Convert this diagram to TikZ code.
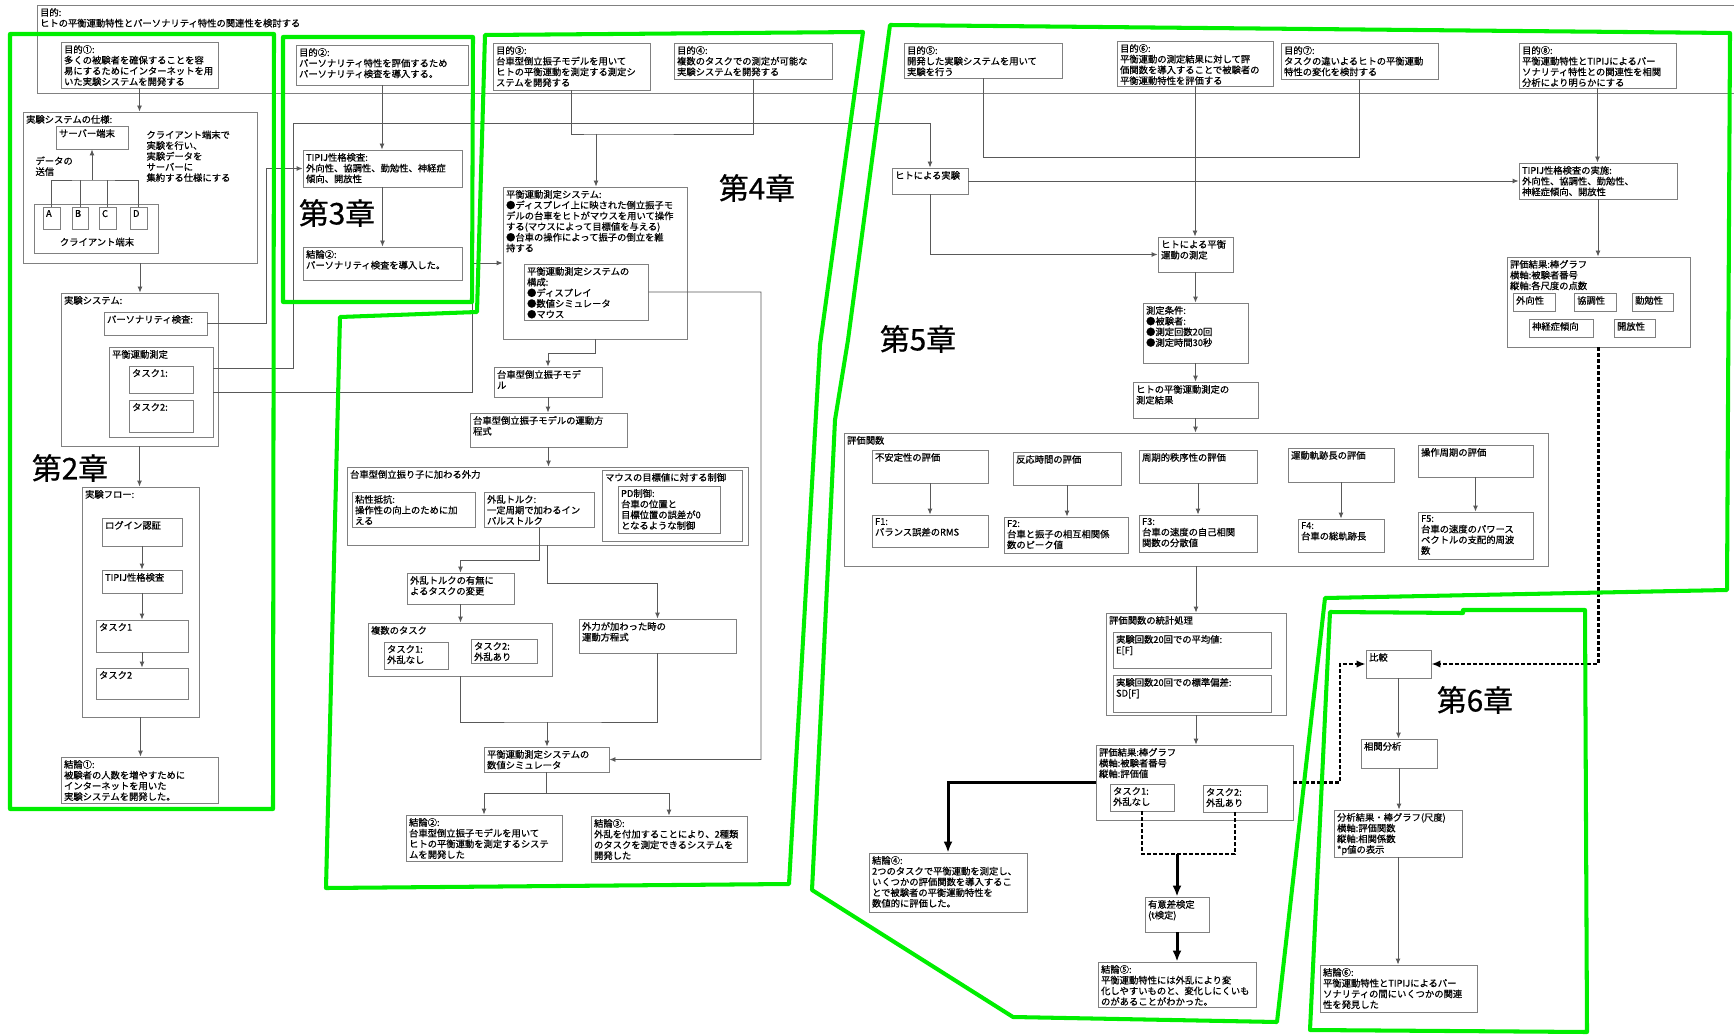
\documentclass[tikz,border=0pt]{standalone}
\usepackage{fontspec}
\setmainfont{Noto Sans CJK JP}[RawFeature={embolden=0.6}]
\usepackage{xcolor}
\usepackage{tikz}
\usetikzlibrary{
  arrows.meta,
  calc,
  fit
}
\definecolor{chgreen}{RGB}{0,238,0}

% box from corner to corner, text at its top left
\newcommand{\jbox}[6]{%
  \node[pbox, fit={(#2,#3) (#4,#5)}] (#1) {};
  \node[lbl] (#1-t) at (#1.north west) {#6};}

\begin{document}
\begin{tikzpicture}[
  x=0.2mm, y=-0.2mm,
  pbox/.style={draw=black!50, line width=0.5pt, inner sep=0pt},
  lbl/.style={anchor=north west, align=left, inner sep=1.8pt,
    font=\fontsize{5.3}{6.1}\selectfont},
  ln/.style={draw=black!65, line width=0.5pt},
  arr/.style={ln, -{Latex[length=1.2mm, width=1mm]}},
  tarr/.style={line width=1.7pt, -{Latex[length=2.2mm, width=1.8mm]}},
  dsh/.style={line width=1.4pt, dash pattern=on 0.8mm off 0.4mm},
  darr/.style={dsh, -{Latex[length=1.8mm, width=1.5mm]}},
  chapter/.style={draw=chgreen, line width=2.3pt, line join=round},
  chlbl/.style={font=\fontsize{17}{17}\selectfont, inner sep=0pt}
]
  \useasboundingbox (0,0) rectangle (1734,1035);

  \jbox{goal}{37}{5}{1745}{93}{目的:\\ヒトの平衡運動特性とパーソナリティ特性の関連性を検討する}

  % chapter 2
  \jbox{o1}{61}{42}{218}{88}{目的①:\\多くの被験者を確保することを容\\易にするためにインターネットを用\\いた実験システムを開発する}
  \jbox{spec}{23}{112}{257}{263}{実験システムの仕様:}
  \jbox{srv}{56}{126}{128}{149}{サーバー端末}
  \node[lbl] (spec-n) at (143,127) {クライアント端末で\\実験を行い、\\実験データを\\サーバーに\\集約する仕様にする};
  \node[lbl] (send) at (32,153) {データの\\送信};
  \jbox{cli}{34}{204}{158}{253}{}
  \jbox{cA}{43}{207}{60}{229}{A}
  \jbox{cB}{72}{207}{88}{229}{B}
  \jbox{cC}{99}{207}{116}{229}{C}
  \jbox{cD}{130}{207}{147}{229}{D}
  \node[lbl, anchor=center] (cli-n) at (97,242) {クライアント端末};
  \jbox{sys}{61}{293}{218}{446}{実験システム:}
  \jbox{per}{104}{312}{207}{335}{パーソナリティ検査:}
  \jbox{bal}{109}{347}{213}{437}{平衡運動測定}
  \jbox{bt1}{129}{366}{193}{393}{タスク1:}
  \jbox{bt2}{129}{400}{193}{432}{タスク2:}
  \jbox{flow}{82}{487}{199}{717}{実験フロー:}
  \jbox{login}{102}{518}{182}{546}{ログイン認証}
  \jbox{ftip}{102}{570}{182}{593}{TIPIJ性格検査}
  \jbox{ft1}{96}{620}{188}{652}{タスク1}
  \jbox{ft2}{96}{668}{188}{699}{タスク2}
  \jbox{c1}{61}{757}{218}{803}{結論①:\\被験者の人数を増やすために\\インターネットを用いた\\実験システムを開発した。}

  % chapter 3
  \jbox{o2}{296}{45}{468}{85}{目的②:\\パーソナリティ特性を評価するため\\パーソナリティ検査を導入する。}
  \jbox{tipi}{303}{150}{462}{187}{TIPIJ性格検査:\\外向性、協調性、勤勉性、神経症\\傾向、開放性}
  \jbox{c2}{303}{247}{462}{280}{結論②:\\パーソナリティ検査を導入した。}

  % chapter 4
  \jbox{o3}{493}{43}{650}{90}{目的③:\\台車型倒立振子モデルを用いて\\ヒトの平衡運動を測定する測定シ\\ステムを開発する}
  \jbox{o4}{674}{43}{832}{79}{目的④:\\複数のタスクでの測定が可能な\\実験システムを開発する}
  \jbox{msys}{503}{187}{687}{339}{平衡運動測定システム:\\●ディスプレイ上に映された倒立振子モ\\デルの台車をヒトがマウスを用いて操作\\する(マウスによって目標値を与える)\\●台車の操作によって振子の倒立を維\\持する}
  \jbox{comp}{524}{264}{648}{320}{平衡運動測定システムの\\構成:\\●ディスプレイ\\●数値シミュレータ\\●マウス}
  \jbox{cart}{494}{367}{602}{397}{台車型倒立振子モデ\\ル}
  \jbox{eom}{470}{413}{627}{447}{台車型倒立振子モデルの運動方\\程式}
  \jbox{ext}{347}{467}{748}{545}{台車型倒立振り子に加わる外力}
  \jbox{visc}{352}{492}{475}{527}{粘性抵抗:\\操作性の向上のために加\\える}
  \jbox{dist}{484}{492}{594}{527}{外乱トルク:\\一定周期で加わるイン\\パルストルク}
  \jbox{mctl}{602}{470}{742}{541}{マウスの目標値に対する制御}
  \jbox{pd}{618}{486}{720}{533}{PD制御:\\台車の位置と\\目標位置の誤差が0\\となるような制御}
  \jbox{chg}{407}{573}{514}{604}{外乱トルクの有無に\\よるタスクの変更}
  \jbox{multi}{368}{623}{552}{676}{複数のタスク}
  \jbox{mt1}{384}{642}{448}{669}{タスク1:\\外乱なし}
  \jbox{mt2}{471}{639}{537}{663}{タスク2:\\外乱あり}
  \jbox{eomf}{579}{619}{736}{653}{外力が加わった時の\\運動方程式}
  \jbox{sim}{484}{747}{609}{772}{平衡運動測定システムの\\数値シミュレータ}
  \jbox{c4a}{406}{815}{562}{861}{結論②:\\台車型倒立振子モデルを用いて\\ヒトの平衡運動を測定するシステ\\ムを開発した}
  \jbox{c4b}{591}{816}{747}{862}{結論③:\\外乱を付加することにより、2種類\\のタスクを測定できるシステムを\\開発した}

  % chapter 5
  \jbox{o5}{904}{43}{1062}{78}{目的⑤:\\開発した実験システムを用いて\\実験を行う}
  \jbox{o6}{1117}{41}{1273}{86}{目的⑥:\\平衡運動の測定結果に対して評\\価関数を導入することで被験者の\\平衡運動特性を評価する}
  \jbox{o7}{1281}{43}{1438}{79}{目的⑦:\\タスクの違いよるヒトの平衡運動\\特性の変化を検討する}
  \jbox{o8}{1519}{43}{1676}{88}{目的⑧:\\平衡運動特性とTIPIJによるパー\\ソナリティ特性との関連性を相関\\分析により明らかにする}
  \jbox{hexp}{892}{168}{968}{194}{ヒトによる実験}
  \jbox{hmeas}{1158}{237}{1233}{272}{ヒトによる平衡\\運動の測定}
  \jbox{cond}{1143}{303}{1248}{363}{測定条件:\\●被験者:\\●測定回数20回\\●測定時間30秒}
  \jbox{res}{1133}{382}{1258}{418}{ヒトの平衡運動測定の\\測定結果}
  \jbox{eval}{844}{433}{1548}{566}{評価関数}
  \jbox{u1}{872}{450}{988}{483}{不安定性の評価}
  \jbox{f1}{872}{515}{988}{547}{F1:\\バランス誤差のRMS}
  \jbox{u2}{1013}{452}{1121}{485}{反応時間の評価}
  \jbox{f2}{1004}{517}{1128}{553}{F2:\\台車と振子の相互相関係\\数のピーク値}
  \jbox{u3}{1139}{450}{1257}{483}{周期的秩序性の評価}
  \jbox{f3}{1139}{515}{1257}{552}{F3:\\台車の速度の自己相関\\関数の分散値}
  \jbox{u4}{1288}{448}{1394}{482}{運動軌跡長の評価}
  \jbox{f4}{1298}{519}{1384}{552}{F4:\\台車の総軌跡長}
  \jbox{u5}{1418}{445}{1533}{477}{操作周期の評価}
  \jbox{f5}{1418}{512}{1533}{559}{F5:\\台車の速度のパワース\\ペクトルの支配的周波\\数}
  \jbox{stat}{1106}{613}{1286}{715}{評価関数の統計処理}
  \jbox{mean}{1113}{632}{1271}{668}{実験回数20回での平均値:\\E[F]}
  \jbox{sd}{1113}{675}{1271}{712}{実験回数20回での標準偏差:\\SD[F]}
  \jbox{evr}{1096}{745}{1293}{820}{評価結果:棒グラフ\\横軸:被験者番号\\縦軸:評価値}
  \jbox{et1}{1110}{784}{1174}{811}{タスク1:\\外乱なし}
  \jbox{et2}{1203}{785}{1267}{812}{タスク2:\\外乱あり}
  \jbox{c5a}{869}{853}{1027}{912}{結論④:\\2つのタスクで平衡運動を測定し、\\いくつかの評価関数を導入するこ\\とで被験者の平衡運動特性を\\数値的に評価した。}
  \jbox{sig}{1145}{897}{1209}{932}{有意差検定\\(t検定)}
  \jbox{c5b}{1098}{962}{1256}{1007}{結論⑤:\\平衡運動特性には外乱により変\\化しやすいものと、変化しにくいも\\のがあることがわかった。}
  \jbox{tipiR}{1519}{163}{1677}{199}{TIPIJ性格検査の実施:\\外向性、協調性、勤勉性、\\神経症傾向、開放性}
  \jbox{pres}{1507}{257}{1690}{347}{評価結果:棒グラフ\\横軸:被験者番号\\縦軸:各尺度の点数}
  \jbox{s1}{1513}{293}{1555}{311}{外向性}
  \jbox{s2}{1574}{293}{1616}{311}{協調性}
  \jbox{s3}{1632}{293}{1673}{311}{勤勉性}
  \jbox{s4}{1529}{319}{1593}{337}{神経症傾向}
  \jbox{s5}{1614}{319}{1655}{337}{開放性}

  % chapter 6
  \jbox{cmp}{1366}{650}{1431}{678}{比較}
  \jbox{corr}{1361}{739}{1437}{768}{相関分析}
  \jbox{ares}{1334}{810}{1462}{857}{分析結果・棒グラフ(尺度)\\横軸:評価関数\\縦軸:相関係数\\*p値の表示}
  \jbox{c6}{1320}{965}{1477}{1012}{結論⑥:\\平衡運動特性とTIPIJによるパー\\ソナリティの間にいくつかの関連\\性を発見した}

  % connectors, chapter 2 and 3
  \draw[arr] (o1.south) -- (o1.south |- spec.north);
  \coordinate (bus) at (92,180);
  \draw[ln] (cA.north) |- (bus) -| (cD.north);
  \draw[ln] (cB.north) -- (cB.north |- bus);
  \draw[ln] (cC.north) -- (cC.north |- bus);
  \draw[arr] (bus) -- (srv.south);
  \draw[arr] (spec.south) -- (spec.south |- sys.north);
  \draw[arr] (sys.south) -- (sys.south |- flow.north);
  \draw[arr] (login) -- (ftip);
  \draw[arr] (ftip) -- (ft1);
  \draw[arr] (ft1) -- (ft2);
  \draw[arr] (flow.south) -- (flow.south |- c1.north);
  \draw[arr] (per.east) -| ($(tipi.west)+(-36,0)$) -- (tipi.west);
  \coordinate (r2) at (293,123);
  \draw[arr] ($(bal.north east)+(0,22)$) -| (r2) -| (hexp.north);
  \coordinate (r3) at (472,263);
  \draw[arr] (bal.east) -| (r3) -- (msys.west);
  \draw[arr] (o2.south) -- (o2.south |- tipi.north);
  \draw[arr] (tipi.south) -- (tipi.south |- c2.north);

  % connectors, chapter 4
  \coordinate (j4) at (596,134);
  \draw[ln] (o3.south) |- (j4) -| (o4.south);
  \draw[arr] (j4) -- (j4 |- msys.north);
  \coordinate (r4) at (761,759.5);
  \draw[arr] (comp.east) -| (r4) -- (sim.east);
  \draw[arr] (msys.south) -- ++(0,14) -| (cart.north);
  \draw[arr] (cart.south) -- (cart.south |- eom.north);
  \draw[arr] (eom.south) -- (eom.south |- ext.north);
  \draw[arr] (dist.south) -- ++(0,33) -| (chg.north);
  \draw[arr] (ext.south) -- ++(0,38) -| (eomf.north);
  \draw[arr] (chg.south) -- (chg.south |- multi.north);
  \coordinate (j5) at (547,722);
  \draw[ln] (multi.south) |- (j5) -| (eomf.south);
  \draw[arr] (j5) -- (j5 |- sim.north);
  \coordinate (j6) at (546.5,793);
  \draw[ln] (sim.south) -- (j6);
  \draw[arr] (j6) -| (c4a.north);
  \draw[arr] (j6) -| (c4b.north);

  % connectors, chapter 5
  \coordinate (j7) at (1359.5,157);
  \draw[ln] (o5.south) |- (j7) -- (o7.south);
  \draw[arr] (hexp.east) -- (tipiR.west);
  \draw[arr] (hexp.south) |- (hmeas.west);
  \draw[arr] (o6.south) -- (o6.south |- hmeas.north);
  \draw[arr] (hmeas.south) -- (hmeas.south |- cond.north);
  \draw[arr] (cond.south) -- (cond.south |- res.north);
  \draw[arr] (res.south) -- (res.south |- eval.north);
  \draw[arr] (u1.south) -- (u1.south |- f1.north);
  \draw[arr] (u2.south) -- (u2.south |- f2.north);
  \draw[arr] (u3.south) -- (u3.south |- f3.north);
  \draw[arr] (u4.south) -- (u4.south |- f4.north);
  \draw[arr] (u5.south) -- (u5.south |- f5.north);
  \draw[arr] (eval.south) -- (eval.south |- stat.north);
  \draw[arr] (stat.south) -- (stat.south |- evr.north);
  \draw[tarr] (evr.west) -| (c5a.north);
  \coordinate (j8) at (1177,854);
  \draw[dsh] (et1.south) |- (j8) -| (et2.south);
  \draw[tarr] (j8) -- (j8 |- sig.north);
  \draw[tarr] (sig.south) -- (sig.south |- c5b.north);
  \draw[arr] (o8.south) -- (o8.south |- tipiR.north);
  \draw[arr] (tipiR.south) -- (tipiR.south |- pres.north);
  \coordinate (r5) at (1340,664);
  \draw[darr] (evr.east) -| (r5) -- (cmp.west);
  \draw[darr] (pres.south) |- (cmp.east);

  % connectors, chapter 6
  \draw[arr] (cmp.south) -- (cmp.south |- corr.north);
  \draw[arr] (corr.south) -- (corr.south |- ares.north);
  \draw[arr] (ares.south) -- (ares.south |- c6.north);

  % chapter outlines
  \draw[chapter] (10,34) -- (274,34) -- (273,809) -- (10,809) -- cycle;
  \draw[chapter] (283,37) -- (473,37) -- (472,302) -- (283,302) -- cycle;
  \draw[chapter] (340,317) -- (477,312) -- (485,35) -- (863,32) -- (820,345)
    -- (789,884) -- (326,888) -- cycle;
  \draw[chapter] (890,25) -- (1730,33) -- (1727,590) -- (1325,598) -- (1277,1022)
    -- (1013,1017) -- (812,890) -- (822,690) -- (835,420) -- (848,340) -- cycle;
  \draw[chapter] (1330,612) -- (1463,613) -- (1463,610) -- (1585,610)
    -- (1587,1032) -- (1310,1030) -- cycle;

  \node[chlbl] (ch2) at (70,468) {第2章};
  \node[chlbl] (ch3) at (337,213) {第3章};
  \node[chlbl] (ch4) at (757,188) {第4章};
  \node[chlbl] (ch5) at (918,339) {第5章};
  \node[chlbl] (ch6) at (1475,700) {第6章};
\end{tikzpicture}
\end{document}
